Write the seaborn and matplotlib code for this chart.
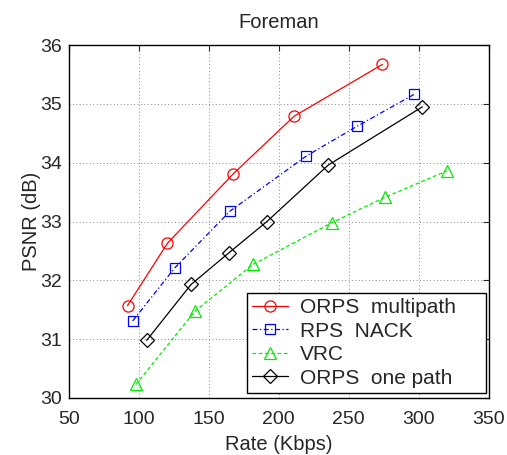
import matplotlib
matplotlib.use("Agg")
import matplotlib.pyplot as plt
import seaborn as sns
import pandas as pd

multipath_x = [92, 120.5, 167.5, 211, 274]
multipath_y = [31.57, 32.63, 33.81, 34.79, 35.67]
nack_x = [95.7, 125.7, 165.4, 219.5, 256, 296.6]
nack_y = [31.31, 32.21, 33.18, 34.11, 34.62, 35.16]
vrc_x = [98, 140.4, 181.6, 238, 275.7, 320]
vrc_y = [30.23, 31.48, 32.27, 32.98, 33.41, 33.86]
onepath_x = [105.7, 137.4, 164.5, 191.6, 235.4, 302.6]
onepath_y = [30.98, 31.93, 32.47, 33.0, 33.96, 34.95]

labels = ["ORPS  multipath", "RPS  NACK", "VRC", "ORPS  one path"]
xticks = [50, 100, 150, 200, 250, 300, 350]
yticks = [30, 31, 32, 33, 34, 35, 36]

sns.set_style("white")
plt.rcParams['font.family'] = ['Liberation Sans', 'DejaVu Sans']

fig = plt.figure(figsize=(5.07, 4.55), dpi=100)
ax = fig.add_axes([0.1355, 0.1253, 0.8285, 0.7757])

series = [
    (multipath_x, multipath_y, labels[0], '#ff0000', '-', 'o', 8),
    (nack_x, nack_y, labels[1], '#0000ff', (0, (4, 2, 1, 2)), 's', 7),
    (vrc_x, vrc_y, labels[2], '#00ee00', (0, (3, 2)), '^', 8),
    (onepath_x, onepath_y, labels[3], '#000000', '-', 'D', 7),
]
for xs, ys, lab, col, ls, mk, ms in series:
    df = pd.DataFrame({"x": xs, "y": ys})
    sns.lineplot(data=df, x="x", y="y", ax=ax, color=col,
                 marker=mk, markersize=ms, markerfacecolor='none',
                 markeredgecolor=col, markeredgewidth=0.9, linewidth=0.9,
                 label=lab, sort=False)
    ax.lines[-1].set_linestyle(ls)

ax.set_xlim(50, 350)
ax.set_ylim(30, 36)
ax.set_xticks(xticks)
ax.set_yticks(yticks)
ax.tick_params(axis='both', direction='in', labelsize=14, length=4,
               top=True, right=True, width=0.8)
ax.tick_params(axis='x', pad=9.5)
ax.tick_params(axis='y', pad=4.5)
ax.grid(True, linestyle=(0, (1, 2.5)), color='#888888', linewidth=0.7)
for s in ax.spines.values():
    s.set_linewidth(1.0)
    s.set_color('black')
ax.set_xlabel("Rate (Kbps)", fontsize=14.5, labelpad=5)
ax.set_ylabel("PSNR (dB)", fontsize=14.5, labelpad=0)
ax.set_title("Foreman", fontsize=14.5, pad=12)

leg = ax.legend(loc='lower left', bbox_to_anchor=(0.4245, 0.0142, 0.569, 0.30),
                mode='expand', fontsize=15, frameon=True, fancybox=False,
                edgecolor='black', framealpha=1, borderpad=0.25,
                labelspacing=0.22, handlelength=1.7, handletextpad=0.6,
                borderaxespad=0.0)
leg.get_frame().set_linewidth(1.0)

fig.savefig("out.png", dpi=100)
